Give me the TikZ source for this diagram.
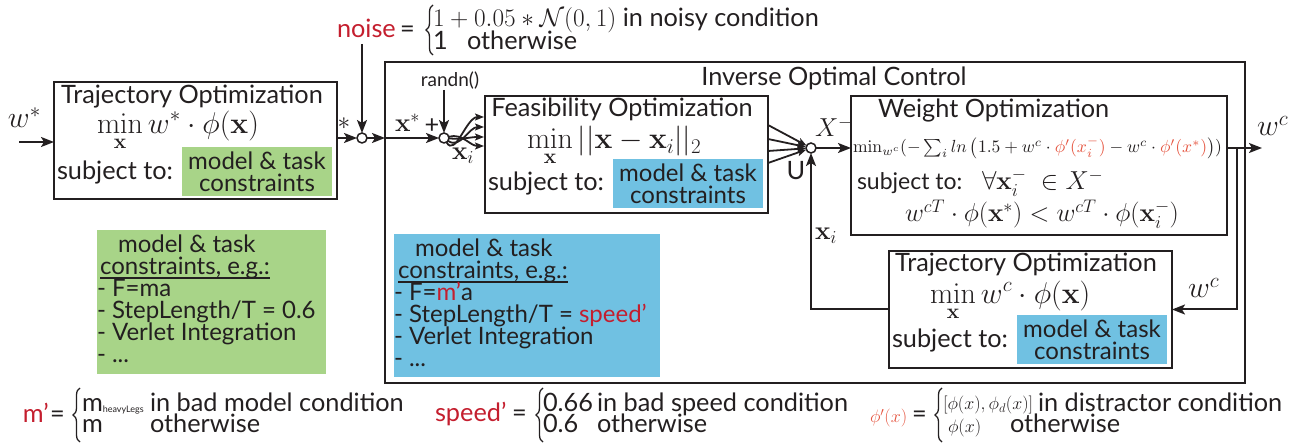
\RequirePackage{fix-cm}
\documentclass[tikz,border=0pt]{standalone}
\usepackage{amsmath}
\usepackage[no-math]{fontspec}
\setmainfont{Lato}
\usepackage{graphicx}
\usetikzlibrary{arrows.meta,calc,decorations.pathreplacing}
\definecolor{ink}{HTML}{231F20}
\definecolor{tagg}{HTML}{A8D488}
\definecolor{tagb}{HTML}{70C1E2}
\definecolor{redw}{HTML}{C41E2E}
\definecolor{redphi}{HTML}{E5543F}
\tikzset{
  every node/.style={text=ink, inner sep=0pt, outer sep=0pt},
  tx/.style={font=\fontsize{25.3}{22}\selectfont},
  tl/.style={font=\fontsize{24}{22}\selectfont},
  txs/.style={font=\fontsize{19}{19}\selectfont},
  mth/.style={font=\fontsize{30}{30}\selectfont},
  mtm/.style={font=\fontsize{26}{26}\selectfont},
  msm/.style={font=\fontsize{18}{18}\selectfont},
  blk/.style={draw=ink, line width=2.4pt},
  frame/.style={draw=ink, line width=2pt},
  uline/.style={draw=ink, line width=1.3pt},
  arr/.style={draw=ink, line width=2pt, -{Stealth[length=13pt,width=10pt,inset=3pt]}},
  sarr/.style={draw=ink, line width=1.8pt, -{Stealth[length=9pt,width=7pt,inset=2pt]}},
  sumc/.style={circle, draw=ink, fill=white, line width=1.5pt, minimum size=10pt},
  tagG/.style={fill=tagg, minimum width=150pt, minimum height=49pt, align=center, font=\fontsize{24}{22}\selectfont},
  tagB/.style={fill=tagb, minimum width=150pt, minimum height=49pt, align=center, font=\fontsize{24}{22}\selectfont},
  brc/.style={draw=ink, line width=1.3pt, decorate, decoration={brace, amplitude=7pt}},
}
\begin{document}
\begin{tikzpicture}[x=1pt,y=-1pt]
\useasboundingbox (0,0) rectangle (1299,443);
% ---------- blocks
\node[blk, minimum width=283pt, minimum height=117pt] (to1) at (195.5,140.5) {};
\node[frame, minimum width=860pt, minimum height=321pt] (ioc) at (815,222.5) {};
\node[blk, minimum width=283pt, minimum height=117pt] (fea) at (626.5,154.5) {};
\node[blk, minimum width=376pt, minimum height=139pt] (wgt) at (1039,165.5) {};
\node[blk, minimum width=283pt, minimum height=117pt] (to2) at (1030.5,309.5) {};
% tags
\node[tagG] (tg1) at (257,171.5) {model \& task\\constraints};
\node[tagB] (tb1) at (688,184) {model \& task\\constraints};
\node[tagB] (tb2) at (1092,339.5) {model \& task\\constraints};
% legends
\node[fill=tagg, minimum width=229pt, minimum height=144pt] (lg) at (211.5,302) {};
\node[fill=tagb, minimum width=266pt, minimum height=143pt] (lb) at (527,305.5) {};
\node[tl, anchor=base west] (lg1) at (118,253) {model \& task};
\node[tl, anchor=base west] (lg2) at (100,275) {constraints, e.g.:};
\draw[uline] ($(lg2.base west)+(0,3)$) -- ($(lg2.base east)+(0,3)$);
\node[tl, anchor=base west] (lg3) at (97,297) {- F=ma};
\node[tl, anchor=base west] (lg4) at (97,319) {- StepLength/T = 0.6};
\node[tl, anchor=base west] (lg5) at (97,341) {- Verlet Integration};
\node[tl, anchor=base west] (lg6) at (97,363) {- ...};
\node[tl, anchor=base west] (lb1) at (415,257) {model \& task};
\node[tl, anchor=base west] (lb2) at (398,279) {constraints, e.g.:};
\draw[uline] ($(lb2.base west)+(0,3)$) -- ($(lb2.base east)+(0,3)$);
\node[tl, anchor=base west] (lb3) at (394,301) {- F=\textcolor{redw}{m’}a};
\node[tl, anchor=base west] (lb4) at (394,323) {- StepLength/T = \textcolor{redw}{speed’}};
\node[tl, anchor=base west] (lb5) at (394,345) {- Verlet Integration};
\node[tl, anchor=base west] (lb6) at (394,367) {- ...};
% ---------- block texts
\node[tx, anchor=base] (to1t) at (192,104) {Trajectory Optimization};
\node[mth, anchor=base west] (to1m) at (97,134) {$\displaystyle\min_{\mathbf{x}} w^*\cdot\phi(\mathbf{x})$};
\node[tx, anchor=base west] (to1s) at (57,180) {subject to:};
\node[tx, anchor=base] (ioct) at (834,86) {Inverse Optimal Control};
\node[tx, anchor=base] (feat) at (622,117) {Feasibility Optimization};
\node[mth, anchor=base west] (feam) at (527,149) {$\displaystyle\min_{\mathbf{x}} ||\mathbf{x}-\mathbf{x}_i||_2$};
\node[tx, anchor=base west] (feas) at (488,191) {subject to:};
\node[tx, anchor=base west] (wgtt) at (878,118) {Weight Optimization};
\node[anchor=west] (wgtm) at (853,148) {\resizebox{369pt}{!}{$\min_{w^c}(-\sum_i ln\left(1.5+w^c\cdot\textcolor{redphi}{\phi'(x_i^-)}-w^c\cdot\textcolor{redphi}{\phi'(x^*)}\right))$}};
\node[font=\fontsize{23}{22}\selectfont, anchor=base west] (wgts) at (857,190) {subject to:};
\node[mtm, anchor=base west] (wgtf) at (982,190) {$\forall\mathbf{x}_i^-\;\in X^-$};
\node[mtm, anchor=base west] (wgtc) at (905,222) {$w^{cT}\cdot\phi(\mathbf{x}^*)<w^{cT}\cdot\phi(\mathbf{x}_i^-)$};
\node[tx, anchor=base] (to2t) at (1026,272) {Trajectory Optimization};
\node[mth, anchor=base west] (to2m) at (930,304) {$\displaystyle\min_{\mathbf{x}} w^c\cdot\phi(\mathbf{x})$};
\node[tx, anchor=base west] (to2s) at (892,348) {subject to:};
% ---------- summing junctions
\node[sumc] (s1) at (362,138) {};
\node[sumc] (s2) at (444,138) {};
\node[sumc] (s3) at (811,148) {};
% ---------- signals
\coordinate (win) at (19,142);
\node[mth, anchor=base west] (wlab) at (8,128) {$w^*$};
\draw[arr] (win) -- (to1.west |- win);
\draw[arr] (to1.east |- s1) -- (s1);
\node[tx] (star) at (344,124) {$*$};
\coordinate (ntop) at (362,44);
\draw[arr] (ntop) -- (s1);
\draw[arr] (s1) -- (ioc.west |- s1);
\draw[arr] (ioc.west |- s2) -- (s2);
\node[mtm, anchor=base west] (xs) at (395,132) {$\mathbf{x}^*$};
\node[tx] (plus) at (432,126) {+};
\node[txs, anchor=base] (rnd) at (450,87) {randn()};
\draw[arr] (rnd.south -| s2) -- (s2);
\coordinate (f1) at (484,117);
\coordinate (f2) at (484,127);
\coordinate (f3) at (484,137);
\coordinate (f4) at (484,146);
\draw[sarr] (s2) to[out=-60,in=180] (f1);
\draw[sarr] (s2) to[out=-35,in=180] (f2);
\draw[sarr] (s2) to[out=-5,in=180] (f3);
\draw[sarr] (s2) to[out=15,in=180] (f4);
\node[mtm, anchor=base west] (xi1) at (452,160) {$\mathbf{x}_i$};
\coordinate (o1) at (768,125);
\coordinate (o2) at (768,139);
\coordinate (o3) at (768,151);
\coordinate (o4) at (768,163);
\foreach \o in {o1,o2,o3,o4} \draw[sarr] (\o) -- (s3);
\node[mtm, anchor=base west] (xm) at (815,137) {$X^-$};
\node[tx] (ulab) at (796,171) {U};
\draw[arr] (s3) -- (wgt.west |- s3);
\coordinate (wout) at (1262,148);
\draw[arr] (wgt.east |- s3) -- (wout);
\node[mth, anchor=base west] (wc1) at (1257,136) {$w^c$};
\coordinate (wtap) at (1237,148);
\draw[arr] (wtap) |- (to2.east);
\node[mth, anchor=base west] (wc2) at (1188,298) {$w^c$};
\draw[arr] (to2.west) -| (s3);
\node[mtm, anchor=base west] (xi2) at (815,240) {$\mathbf{x}_i$};
% ---------- noise equation
\node[tx, text=redw, anchor=base west] (noiseW) at (337,38) {noise};
\node[tx, anchor=base west] (eq1) at (400,38) {=};
\draw[brc] (433,55) -- (433,5);
\node[tx, anchor=base west] (n1a) at (433,27) {$1+0.05*\mathcal{N}(0,1)$ in noisy condition};
\node[tx, anchor=base west] (n1b) at (433,50) {1};
\node[tx, anchor=base west] (n1c) at (467,50) {otherwise};
% ---------- m' equation
\node[tx, text=redw, anchor=base west] (mp) at (23,423) {m’};
\node[tx, anchor=base west] (eq2) at (50,423) {=};
\draw[brc] (80,442) -- (80,388);
\node[tx, anchor=base west] (m1a) at (82,412) {m\raisebox{-1pt}{\fontsize{9}{9}\selectfont heavyLegs}};
\node[tx, anchor=base west] (m1b) at (150,412) {in bad model condition};
\node[tx, anchor=base west] (m2a) at (82,433) {m};
\node[tx, anchor=base west] (m2b) at (150,433) {otherwise};
% ---------- speed' equation
\node[tx, text=redw, anchor=base west] (sp) at (435,422) {speed’};
\node[tx, anchor=base west] (eq3) at (512,422) {=};
\draw[brc] (543,442) -- (543,388);
\node[tx, anchor=base west] (s1a) at (543,412) {0.66};
\node[tx, anchor=base west] (s1b) at (597,412) {in bad speed condition};
\node[tx, anchor=base west] (s2a) at (543,433) {0.6};
\node[tx, anchor=base west] (s2b) at (597,433) {otherwise};
% ---------- phi' equation
\node[msm, text=redphi, anchor=base west] (pp) at (870,423) {$\phi'(x)$};
\node[tx, anchor=base west] (eq4) at (912,423) {=};
\draw[brc] (942,442) -- (942,388);
\node[msm, anchor=base west] (p1a) at (943,410) {$[\phi(x),\phi_d(x)]$};
\node[tx, anchor=base west] (p1b) at (1038,412) {in distractor condition};
\node[msm, anchor=base west] (p2a) at (948,433) {$\phi(x)$};
\node[tx, anchor=base west] (p2b) at (1010,433) {otherwise};
\end{tikzpicture}
\end{document}
